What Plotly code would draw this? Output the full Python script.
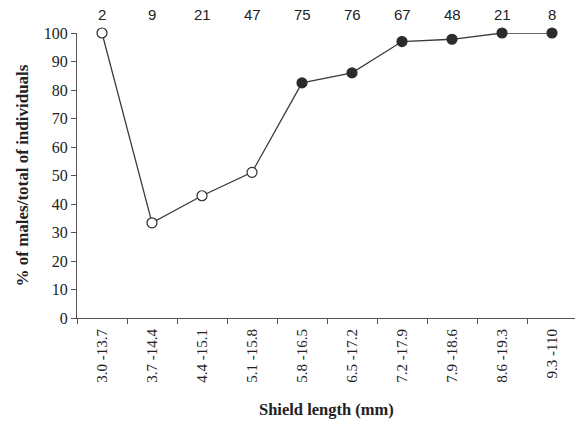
import plotly.graph_objects as go

categories = ["3.0 -13.7", "3.7 -14.4", "4.4 -15.1", "5.1 -15.8", "5.8 -16.5",
              "6.5 -17.2", "7.2 -17.9", "7.9 -18.6", "8.6 -19.3", "9.3 -110"]
pct_males = [100, 33.4, 42.9, 51.1, 82.5, 86.0, 97.0, 97.8, 100, 100]
counts = [2, 9, 21, 47, 75, 76, 67, 48, 21, 8]
filled = [False, False, False, False, True, True, True, True, True, True]

xs = list(range(len(categories)))
ink = "#2b2b2b"
L, T, W, H = 77, 33, 575, 422
PW, PH = W - L, 318 - T

fig = go.Figure()
fig.add_trace(go.Scatter(
    x=xs, y=pct_males, mode="lines+markers",
    line=dict(color="#3a3a3a", width=1.3),
    marker=dict(size=10,
                color=[ink if f else "white" for f in filled],
                line=dict(color=ink, width=1.2)),
    cliponaxis=False, showlegend=False, hoverinfo="skip"))

for x, c in zip(xs, counts):
    fig.add_annotation(x=x, y=(318 - 14) / PH, xref="x", yref="paper",
                       yanchor="middle", xanchor="center",
                       text=str(c), showarrow=False,
                       font=dict(family="Liberation Sans, Arial", size=15, color="#222"))

fig.add_annotation(x=(22 - L) / PW, y=0.5, xref="paper", yref="paper",
                   text="<b>% of males/total of individuals</b>",
                   showarrow=False, textangle=-90, xanchor="center", yanchor="middle",
                   font=dict(family="Liberation Serif, Times New Roman", size=17, color="#222"))

fig.add_annotation(x=(326 - L) / PW, y=(318 - 409) / PH, xref="paper", yref="paper",
                   text="<b>Shield length (mm)</b>",
                   showarrow=False, xanchor="center", yanchor="middle",
                   font=dict(family="Liberation Serif, Times New Roman", size=16.5, color="#222"))

fig.update_layout(
    width=W, height=H,
    margin=dict(l=L, r=0, t=T, b=H - 318, autoexpand=False),
    paper_bgcolor="white", plot_bgcolor="white",
    xaxis=dict(range=[-0.5, 9.46], tickmode="array", tickvals=xs, ticktext=categories,
               tickangle=-90, showgrid=False, zeroline=False, automargin=False,
               showline=True, linecolor="#555", linewidth=1,
               ticks="", tickfont=dict(family="Liberation Serif, Times New Roman", size=15, color="#222"),
               ticklabelstandoff=4),
    yaxis=dict(range=[0, 100], tickvals=list(range(0, 101, 10)), showgrid=False, zeroline=False,
               showline=True, linecolor="#555", linewidth=1, automargin=False,
               ticks="outside", ticklen=5, tickcolor="#555",
               tickfont=dict(family="Liberation Serif, Times New Roman", size=16, color="#222")),
    xaxis2=dict(overlaying="x", anchor="y", side="bottom", range=[-0.5, 9.46],
                tickvals=[i - 0.5 for i in range(11)], ticktext=[""] * 11, automargin=False,
                ticks="outside", ticklen=5, tickcolor="#555", showgrid=False,
                zeroline=False, showline=False),
)
fig.add_trace(go.Scatter(x=[None], y=[None], xaxis="x2", showlegend=False, hoverinfo="skip"))

fig.write_html("out.html", config={"displayModeBar": False},
               post_script="document.body.style.margin='0';document.body.style.overflow='hidden';")
